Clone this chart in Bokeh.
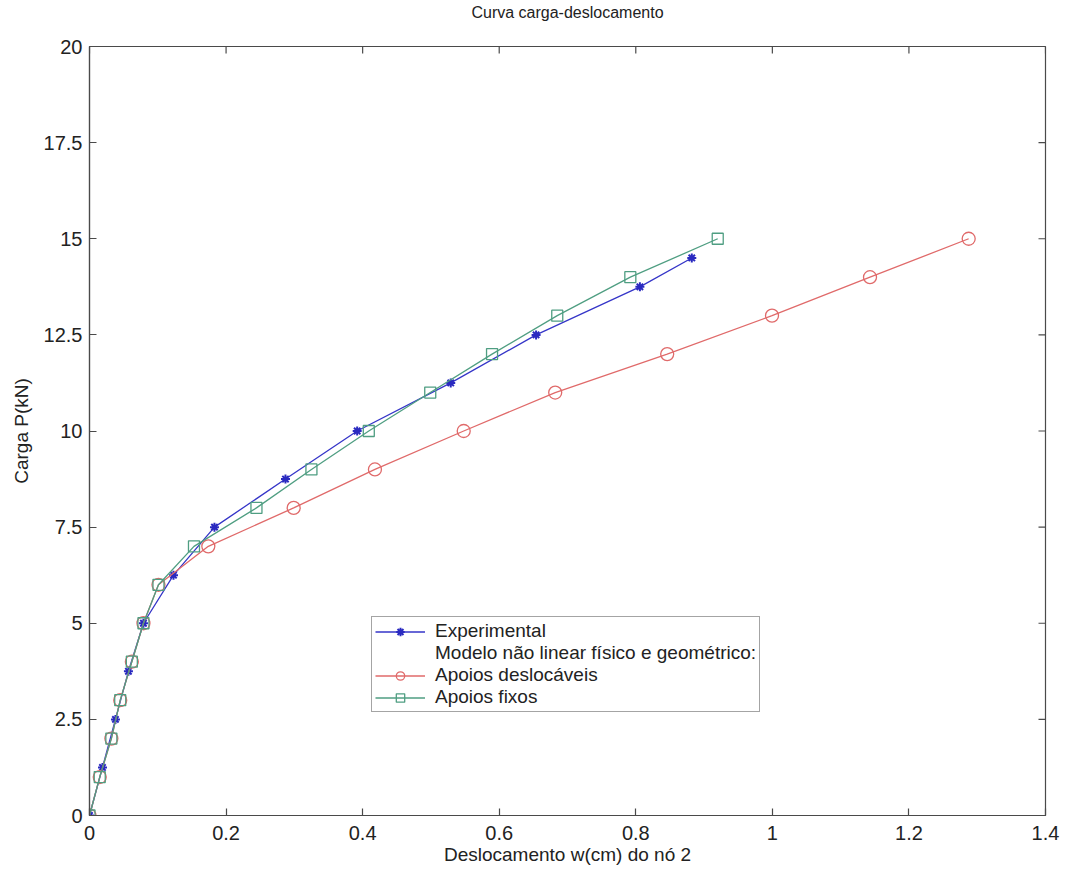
import math
from bokeh.plotting import figure
from bokeh.layouts import column
from bokeh.models import Range1d, FixedTicker, Legend, LegendItem
from bokeh.embed import file_html
from bokeh.resources import INLINE

# ---- data ----
exp_x = [0, 0.019, 0.038, 0.057, 0.079, 0.123, 0.183, 0.287, 0.392, 0.529, 0.654, 0.806, 0.882]
exp_y = [0, 1.25, 2.5, 3.75, 5, 6.25, 7.5, 8.75, 10, 11.25, 12.5, 13.75, 14.5]

desl_x = [0, 0.015, 0.032, 0.045, 0.062, 0.079, 0.101, 0.174, 0.299, 0.418, 0.548, 0.682, 0.846, 0.9995, 1.143, 1.2875]
desl_y = [0, 1, 2, 3, 4, 5, 6, 7, 8, 9, 10, 11, 12, 13, 14, 15]

fix_x = [0, 0.015, 0.032, 0.045, 0.062, 0.079, 0.101, 0.153, 0.2445, 0.325, 0.409, 0.499, 0.5895, 0.685, 0.792, 0.920]
fix_y = [0, 1, 2, 3, 4, 5, 6, 7, 8, 9, 10, 11, 12, 13, 14, 15]

x_ticks = [0, 0.2, 0.4, 0.6, 0.8, 1.0, 1.2, 1.4]
x_tick_labels = ["0", "0.2", "0.4", "0.6", "0.8", "1", "1.2", "1.4"]
y_ticks = [0, 2.5, 5, 7.5, 10, 12.5, 15, 17.5, 20]
y_tick_labels = ["0", "2.5", "5", "7.5", "10", "12.5", "15", "17.5", "20"]

title_text = "Curva carga-deslocamento"
x_label = "Deslocamento w(cm) do nó 2"
y_label = "Carga P(kN)"
leg_labels = ["Experimental", "Modelo não linear físico e geométrico:", "Apoios deslocáveis", "Apoios fixos"]

X_MIN, X_MAX = 0, 1.4
Y_MIN, Y_MAX = 0, 20

W, H = 1069, 874
TOP = 34          # height of the strip holding the title
BL, BR, BT, BB = 89, 24, 12, 59

FONT = "Liberation Sans"
BLUE = "#3535c8"
RED = "#e06a6a"
GREEN = "#4f9e82"
AX = "#4a4a4a"
TXT = "#222222"

# ---- title strip ----
pt = figure(width=W, height=TOP, output_backend="svg", toolbar_location=None,
            x_range=Range1d(0, 1), y_range=Range1d(0, 1),
            min_border_left=BL, min_border_right=BR, min_border_top=0, min_border_bottom=0,
            background_fill_color="white", border_fill_color="white")
pt.axis.visible = False
pt.grid.visible = False
pt.outline_line_color = None
pt.title.text = title_text
pt.title.align = "center"
pt.title.vertical_align = "top"
pt.title.text_font = FONT
pt.title.text_font_size = "16px"
pt.title.text_font_style = "normal"
pt.title.text_color = TXT
pt.title.standoff = 6

# ---- main chart ----
p = figure(width=W, height=H - TOP, output_backend="svg", toolbar_location=None,
           x_range=Range1d(X_MIN, X_MAX), y_range=Range1d(Y_MIN, Y_MAX),
           min_border_left=BL, min_border_right=BR, min_border_top=BT, min_border_bottom=BB,
           background_fill_color="white", border_fill_color="white")
p.grid.visible = False
p.outline_line_color = AX
p.outline_line_width = 1.2

def style_axis(ax, ticks, labels):
    ax.ticker = FixedTicker(ticks=ticks)
    ax.major_label_overrides = {t: l for t, l in zip(ticks, labels)}
    ax.major_tick_in = 7
    ax.major_tick_out = 0
    ax.minor_tick_line_color = None
    ax.axis_line_color = AX
    ax.axis_line_width = 1.2
    ax.major_tick_line_color = AX
    ax.major_tick_line_width = 1.2
    ax.major_label_text_font = FONT
    ax.major_label_text_color = TXT
    ax.major_label_text_font_size = "20px"
    ax.axis_label_text_font = FONT
    ax.axis_label_text_font_size = "19px"
    ax.axis_label_text_font_style = "normal"
    ax.axis_label_text_color = TXT

xa = p.xaxis[0]
ya = p.yaxis[0]
style_axis(xa, x_ticks, x_tick_labels)
style_axis(ya, y_ticks, y_tick_labels)
xa.major_label_standoff = 10
ya.major_label_standoff = 7
xa.axis_label = x_label
ya.axis_label = y_label
xa.axis_label_standoff = 1
ya.axis_label_standoff = 9

# inward ticks on the top and right edges of the box
p.ray(x=x_ticks, y=[Y_MAX] * len(x_ticks), length=7, length_units="screen",
      angle=-math.pi / 2, line_color=AX, line_width=1.2)
p.ray(x=[X_MAX] * len(y_ticks), y=y_ticks, length=7, length_units="screen",
      angle=math.pi, line_color=AX, line_width=1.2)

# ---- series ----
r_exp_line = p.line(exp_x, exp_y, line_color=BLUE, line_width=1.3)
r_exp_pts = p.scatter(exp_x, exp_y, marker="asterisk", size=9, line_color="#2a2ac0", line_width=2)

r_desl_line = p.line(desl_x, desl_y, line_color=RED, line_width=1.3)
r_desl_pts = p.scatter(desl_x, desl_y, marker="circle", size=13, line_color=RED, fill_color=None, line_width=1.3)

r_fix_line = p.line(fix_x, fix_y, line_color=GREEN, line_width=1.3)
r_fix_pts = p.scatter(fix_x, fix_y, marker="square", size=11, line_color=GREEN, fill_color=None, line_width=1.3)

r_blank = p.line(exp_x, exp_y, line_alpha=0)

legend = Legend(items=[
    LegendItem(label=leg_labels[0], renderers=[r_exp_line, r_exp_pts]),
    LegendItem(label=leg_labels[1], renderers=[r_blank]),
    LegendItem(label=leg_labels[2], renderers=[r_desl_line, r_desl_pts]),
    LegendItem(label=leg_labels[3], renderers=[r_fix_line, r_fix_pts]),
], location=(282, 103))
legend.label_text_font = FONT
legend.label_text_font_size = "19px"
legend.label_text_color = TXT
legend.label_height = 21
legend.glyph_height = 21
legend.glyph_width = 50
legend.label_standoff = 10
legend.spacing = 0
legend.padding = 3
legend.margin = 0
legend.border_line_color = AX
legend.border_line_width = 1
legend.background_fill_color = "white"
legend.background_fill_alpha = 1
p.add_layout(legend, "center")

page = column(pt, p, spacing=0)
open("out.html", "w").write(file_html(page, INLINE))
